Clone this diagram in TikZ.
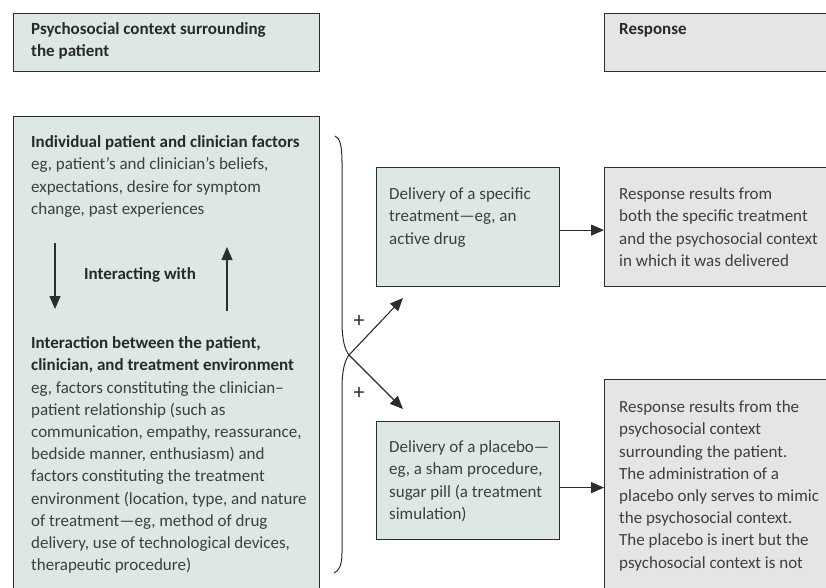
\documentclass[tikz,border=0pt]{standalone}
\usepackage{fontspec}
\setmainfont{Carlito}
\usetikzlibrary{arrows.meta,calc}
\definecolor{greenC}{RGB}{221,232,226}
\definecolor{grayC}{RGB}{227,229,231}
\definecolor{lineC}{RGB}{45,45,45}
\definecolor{textC}{RGB}{60,64,62}
\definecolor{boldC}{RGB}{40,42,41}
\tikzset{
  boxbase/.style={draw=lineC, line width=1.2pt, inner sep=0pt, anchor=north west},
  greenbox/.style={boxbase, fill=greenC},
  graybox/.style={boxbase, fill=grayC},
  txt/.style={anchor=north west, inner sep=0pt, align=left, text=textC,
    font=\fontsize{17}{22.2}\selectfont},
  arr/.style={-{Triangle[length=13pt,width=11pt]}, line width=1.1pt, draw=lineC, fill=lineC},
  plus/.style={inner sep=0pt, text=lineC, font=\fontsize{22}{22}\selectfont}
}
\newcommand{\bt}[1]{{\bfseries\color{boldC}#1}}
\begin{document}
\begin{tikzpicture}[x=1pt,y=-1pt]
\useasboundingbox (0,0) rectangle (826,588);
\clip (0,0) rectangle (826,588);
% boxes
\node[greenbox, minimum width=306pt, minimum height=58pt] (hdrL) at (13,13) {};
\node[graybox, minimum width=240pt, minimum height=58pt] (hdrR) at (604,13) {};
\node[greenbox, minimum width=306pt, minimum height=490pt] (bigL) at (13,116) {};
\node[greenbox, minimum width=183pt, minimum height=119pt] (spec) at (376,167) {};
\node[graybox, minimum width=240pt, minimum height=119pt] (resp1) at (604,167) {};
\node[greenbox, minimum width=183pt, minimum height=118pt] (plac) at (376,421) {};
\node[graybox, minimum width=240pt, minimum height=230pt] (resp2) at (604,379) {};
% texts
\node[txt] (thdrL) at (31,19) {\strut\bt{Psychosocial context surrounding}\\\bt{the patient}};
\node[txt] (thdrR) at (619,19) {\strut\bt{Response}};
\node[txt] (tind) at (31,132) {\strut\bt{Individual patient and clinician factors}\\
eg, patient’s and clinician’s beliefs,\\
expectations, desire for symptom\\
change, past experiences};
\node[txt, anchor=center] (tint) at (140,275) {\bt{Interacting with}};
\node[txt] (tenv) at (31,333) {\strut\bt{Interaction between the patient,}\\
\bt{clinician, and treatment environment}\\
eg, factors constituting the clinician–\\
patient relationship (such as\\
communication, empathy, reassurance,\\
bedside manner, enthusiasm) and\\
factors constituting the treatment\\
environment (location, type, and nature\\
of treatment—eg, method of drug\\
delivery, use of technological devices,\\
therapeutic procedure)};
\node[txt] (tspec) at (389,184) {\strut Delivery of a specific\\treatment—eg, an\\active drug};
\node[txt] (tresp1) at (619,184) {\strut Response results from\\both the specific treatment\\and the psychosocial context\\in which it was delivered};
\node[txt] (tplac) at (389,437) {\strut Delivery of a placebo—\\eg, a sham procedure,\\sugar pill (a treatment\\simulation)};
\node[txt] (tresp2) at (619,397) {\strut Response results from the\\psychosocial context\\surrounding the patient.\\The administration of a\\placebo only serves to mimic\\the psychosocial context.\\The placebo is inert but the\\psychosocial context is not};
% interacting arrows
\coordinate (d1) at (55,243);
\coordinate (d2) at (55,309);
\coordinate (u1) at (227,311);
\coordinate (u2) at (227,247);
\draw[arr] (d1) -- (d2);
\draw[arr] (u1) -- (u2);
% brace
\coordinate (bT) at (335,136);
\coordinate (bTip) at (349,355);
\coordinate (bB) at (334,573);
\draw[lineC, line width=1pt] (bT) .. controls (340,138) and (342,146) .. (342,162)
  -- (342,322) .. controls (342,340) and (345,350) .. (bTip)
  .. controls (345,360) and (342,370) .. (342,388)
  -- (342,553) .. controls (342,565) and (339,571) .. (bB);
% branch arrows
\coordinate (aU) at (403,298);
\coordinate (aD) at (403,409);
\draw[arr] (bTip) -- (aU);
\draw[arr] (bTip) -- (aD);
\node[plus] (p1) at (359,321) {+};
\node[plus] (p2) at (359,393) {+};
% response arrows
\coordinate (s1) at ($(spec.east)+(0,3)$);
\coordinate (s2) at (s1 -| resp1.west);
\coordinate (q1) at ($(plac.east)+(0,7)$);
\coordinate (q2) at (q1 -| resp2.west);
\draw[arr] (s1) -- (s2);
\draw[arr] (q1) -- (q2);
\end{tikzpicture}
\end{document}
